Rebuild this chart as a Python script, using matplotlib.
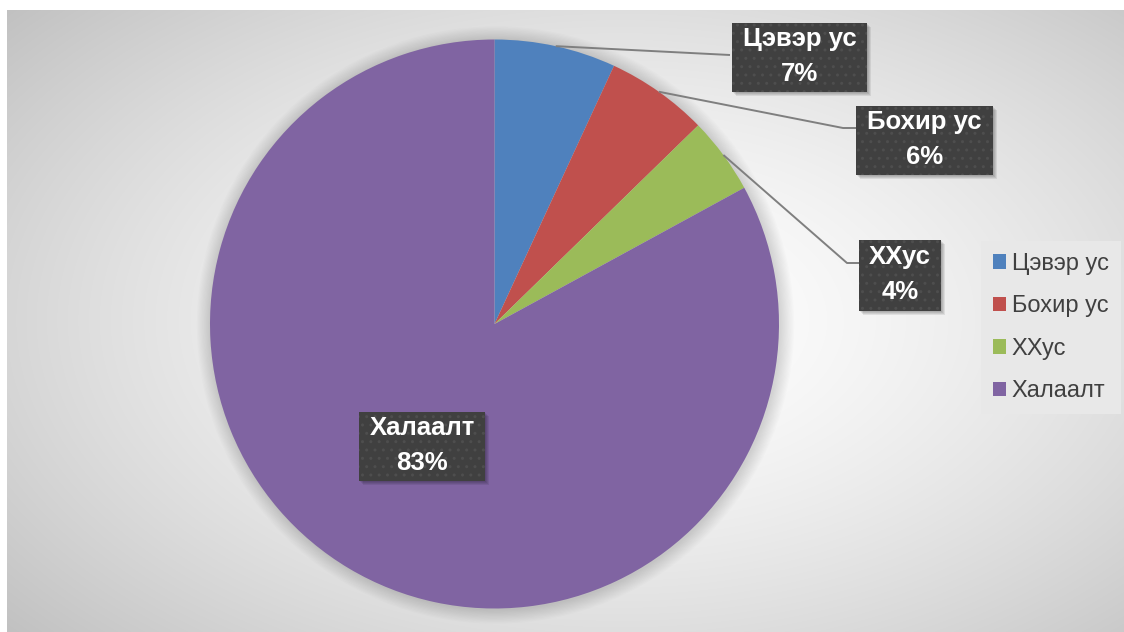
import numpy as np
import matplotlib
matplotlib.use('Agg')
import matplotlib.pyplot as plt
from matplotlib.patches import Rectangle, Circle

categories = ['Цэвэр ус', 'Бохир ус', 'ХХус', 'Халаалт']
values = [6.9, 5.8, 4.35, 82.95]
colors = ['#4F81BD', '#C0504D', '#9BBB59', '#8064A2']

W, H = 1124, 632
fig = plt.figure(figsize=(11.24, 6.32), dpi=100)
ax = fig.add_axes([0, 0, 1, 1])

# background radial gradient (top-down pixel coords)
yy, xx = np.mgrid[10:H, 7:W].astype(float)
r = np.sqrt(((xx - 620) / 560) ** 2 + ((yy - 320) / 330) ** 2)
g = np.clip(1 - 0.14 * r ** 1.5, 0, 1)
img = np.dstack([g, g, g])
ax.imshow(img, extent=[7, W, 0, H - 10], origin='upper', zorder=0,
          interpolation='bilinear', aspect='auto')

cx, cy, R = 494.5, H - 324, 284.5
# soft shadow around pie
for i in range(12):
    ax.add_patch(Circle((cx + 1, cy - 1), R + 1 + i * 1.2, facecolor='black',
                        alpha=0.011, linewidth=0, zorder=1))

wedges, _ = ax.pie(values, colors=colors, startangle=90, counterclock=False,
                   center=(cx, cy), radius=R, wedgeprops=dict(linewidth=0, zorder=2))
for w in wedges:
    w.set_zorder(2)

total = sum(values)
pcts = [round(v / total * 100) for v in values]

# leader lines (layout, top-down pixel coords)
leader_ends = [[(730, 55)], [(843, 128), (856, 128)], [(847, 263), (860, 263)], None]
boxes = [(732, 23, 135, 69), (856, 106, 137, 69), (859, 240, 82, 71), (359, 412, 126, 69)]

cum = 0.0
for i, v in enumerate(values):
    mid = cum + v / 2
    cum += v
    ang = np.deg2rad(90 - 360 * mid / total)
    sx, sy = cx + R * np.cos(ang), cy + R * np.sin(ang)
    if leader_ends[i] is not None:
        xs = [sx] + [p[0] for p in leader_ends[i]]
        ys = [sy] + [H - p[1] for p in leader_ends[i]]
        ax.plot(xs, ys, color='#7F7F7F', lw=1.4, zorder=3, solid_capstyle='butt')
    bx, by, bw, bh = boxes[i]
    y0 = H - by - bh
    for k in range(4):
        ax.add_patch(Rectangle((bx + 1 + k, y0 - 1 - k), bw, bh, facecolor='black',
                               alpha=0.08, linewidth=0, zorder=4))
    ax.add_patch(Rectangle((bx, y0), bw, bh, facecolor='#404040', edgecolor='#4E4E4E',
                           hatch='..', linewidth=0, zorder=5))
    ax.text(bx + bw / 2, y0 + bh / 2 + 1, f'{categories[i]}\n{pcts[i]}%', ha='center', va='center',
            color='white', fontweight='bold', fontsize=18.5, family='Liberation Sans',
            linespacing=1.55, zorder=6)

leg = ax.legend(wedges, categories, loc='upper left', bbox_to_anchor=(981 / W, 1 - 241 / H),
                bbox_transform=ax.transAxes, frameon=True, fancybox=False,
                facecolor='#E8E8E8', edgecolor='none', framealpha=1,
                prop={'family': 'Liberation Sans', 'size': 17},
                handlelength=0.55, handleheight=0.55, handletextpad=0.25,
                labelspacing=0.87, borderpad=0.5, borderaxespad=0)
for t in leg.get_texts():
    t.set_color('#404040')
leg.set_zorder(7)

ax.set_xlim(0, W)
ax.set_ylim(0, H)
ax.set_aspect('auto')
ax.axis('off')
fig.savefig('out.png', dpi=100, facecolor='white')
